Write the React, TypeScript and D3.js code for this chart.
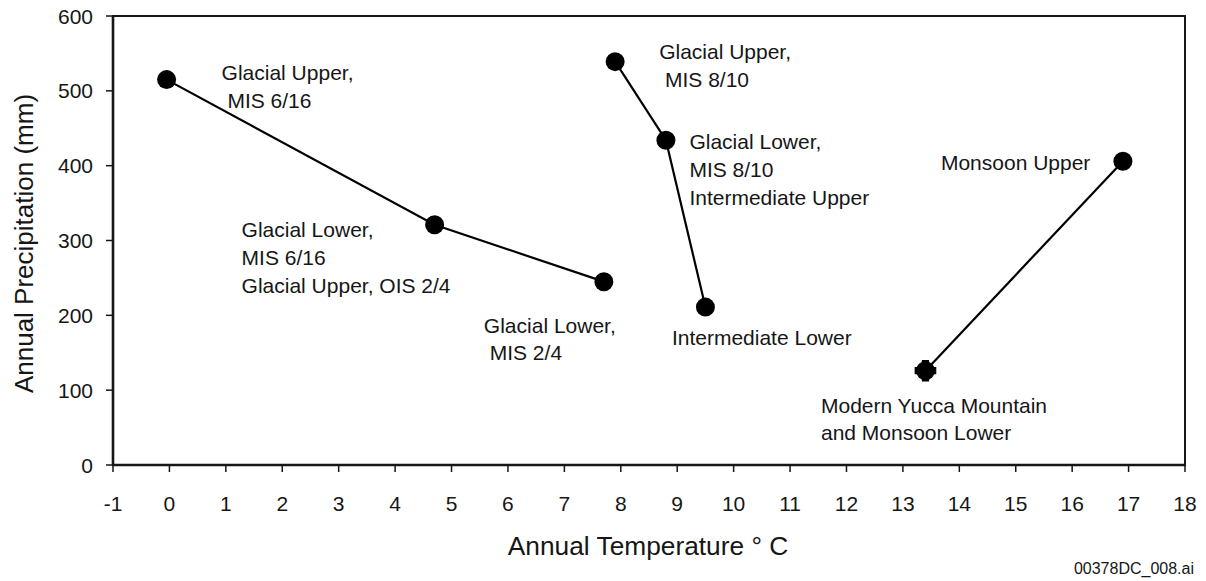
import React from "react";
import * as d3 from "d3";

// ---- data ----
const xTicks = [-1, 0, 1, 2, 3, 4, 5, 6, 7, 8, 9, 10, 11, 12, 13, 14, 15, 16, 17, 18];
const yTicks = [0, 100, 200, 300, 400, 500, 600];

const seriesGlacial616 = [
  { t: -0.05, p: 515 },
  { t: 4.7, p: 321 },
  { t: 7.7, p: 245 },
];
const seriesGlacial810 = [
  { t: 7.9, p: 539 },
  { t: 8.8, p: 434 },
  { t: 9.5, p: 211 },
];
const seriesMonsoon = [
  { t: 13.4, p: 126 },
  { t: 16.9, p: 406 },
];

const labelTexts = [
  ["Glacial Upper,", " MIS 6/16"],
  ["Glacial Lower,", "MIS 6/16", "Glacial Upper, OIS 2/4"],
  ["Glacial Lower,", " MIS 2/4"],
  ["Glacial Upper,", " MIS 8/10"],
  ["Glacial Lower,", "MIS 8/10", "Intermediate Upper"],
  ["Intermediate Lower"],
  ["Modern Yucca Mountain", "and Monsoon Lower"],
  ["Monsoon Upper"],
];

// ---- layout ----
const W = 1206;
const H = 581;
const L = 113, R = 1185, T = 16, B = 465;
const FONT = "'Liberation Sans', Arial, Helvetica, sans-serif";
const INK = "#161616";

// label anchor: which series/point, plus pixel offset of first baseline
const labelLayout = [
  { s: 0, i: 0, dx: 55, dy: 0.5 },
  { s: 0, i: 1, dx: -193, dy: 12.5 },
  { s: 0, i: 2, dx: -120, dy: 51 },
  { s: 1, i: 0, dx: 44, dy: -2.5 },
  { s: 1, i: 1, dx: 23.5, dy: 9 },
  { s: 1, i: 2, dx: -33.5, dy: 38 },
  { s: 2, i: 0, dx: -104.5, dy: 42 },
  { s: 2, i: 1, dx: -182, dy: 9 },
];

export default function App() {
  const x = d3.scaleLinear().domain([-1, 18]).range([L, R]);
  const y = d3.scaleLinear().domain([0, 600]).range([B, T]);
  const allSeries = [seriesGlacial616, seriesGlacial810, seriesMonsoon];
  const line = d3
    .line<{ t: number; p: number }>()
    .x((d) => x(d.t))
    .y((d) => y(d.p));
  const star = d3.symbol().type(d3.symbolCross).size(260)() as string;

  return (
    <svg
      width={W}
      height={H}
      style={{ position: "absolute", left: 0, top: 0, background: "#fff" }}
      fontFamily={FONT}
    >
      <rect x={0} y={0} width={W} height={H} fill="#fff" />
      {/* frame */}
      <rect x={L} y={T} width={R - L} height={B - T} fill="none" stroke={INK} strokeWidth={2} />
      <line x1={L} x2={L} y1={T} y2={B + 1} stroke={INK} strokeWidth={2.6} />
      <line x1={L - 1} x2={R + 1} y1={B} y2={B} stroke={INK} strokeWidth={2.6} />

      {/* x ticks */}
      {xTicks.map((t) => (
        <g key={"x" + t}>
          <line x1={x(t)} x2={x(t)} y1={B} y2={B + 7} stroke={INK} strokeWidth={1.5} />
          <text x={x(t)} y={511} textAnchor="middle" fontSize={21} fill={INK}>
            {t}
          </text>
        </g>
      ))}
      {/* y ticks */}
      {yTicks.map((v) => (
        <g key={"y" + v}>
          <line x1={L - 7} x2={L} y1={y(v)} y2={y(v)} stroke={INK} strokeWidth={1.5} />
          <text x={93} y={y(v) + 7.5} textAnchor="end" fontSize={21} fill={INK}>
            {v}
          </text>
        </g>
      ))}

      {/* axis titles */}
      <text x={648} y={555} textAnchor="middle" fontSize={26.3} fill={INK}>
        Annual Temperature ° C
      </text>
      <text
        transform={`translate(33, ${(T + B) / 2 + 3}) rotate(-90)`}
        textAnchor="middle"
        fontSize={26}
        fill={INK}
      >
        Annual Precipitation (mm)
      </text>

      {/* lines */}
      {allSeries.map((s, k) => (
        <path key={"l" + k} d={line(s) as string} fill="none" stroke="#000" strokeWidth={2.2} />
      ))}
      {/* points */}
      {allSeries.map((s, k) =>
        s.map((d, i) => (
          <circle key={`p${k}-${i}`} cx={x(d.t)} cy={y(d.p)} r={9.5} fill="#000" />
        ))
      )}
      {/* modern yucca marker overlay */}
      <path
        d={star}
        transform={`translate(${x(seriesMonsoon[0].t)}, ${y(seriesMonsoon[0].p)})`}
        fill="#000"
      />

      {/* labels */}
      {labelLayout.map((lay, k) => {
        const d = allSeries[lay.s][lay.i];
        const bx = x(d.t) + lay.dx;
        const by = y(d.p) + lay.dy;
        return (
          <text key={"lab" + k} fontSize={21} fill={INK} style={{ whiteSpace: "pre" }}>
            {labelTexts[k].map((ln, j) => (
              <tspan key={j} x={bx} y={by + j * 27.7}>
                {ln}
              </tspan>
            ))}
          </text>
        );
      })}

      <text x={1194} y={574} textAnchor="end" fontSize={16} fill={INK}>
        00378DC_008.ai
      </text>
    </svg>
  );
}
